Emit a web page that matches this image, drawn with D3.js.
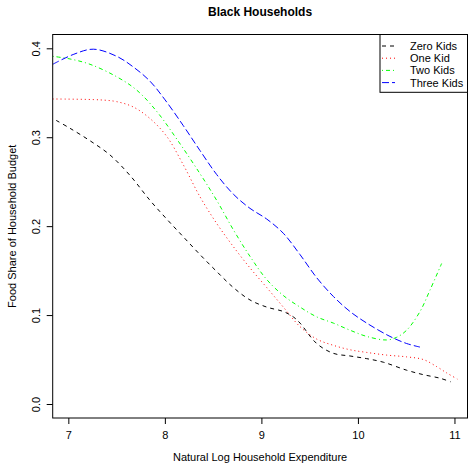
<!DOCTYPE html>
<html>
<head>
<meta charset="utf-8">
<script src="https://cdn.jsdelivr.net/npm/d3@7"></script>
<style>
  body { margin: 0; background: #fff; }
  svg text { font-family: "Liberation Sans", Arial, sans-serif; }
</style>
</head>
<body>
<div id="chart"></div>
<script>
// series names, colours and line types (as in the legend)
const seriesNames = ["Zero Kids", "One Kid", "Two Kids", "Three Kids"];
const seriesColors = ["#000000", "#ff0000", "#00ff00", "#0000ff"];
const seriesDash = ["4,4", "1,3", "1,3,4,3", "7,3"];

// values: [log expenditure, food share]
const zeroKids = [
    [6.873, 0.319], [7.018, 0.310], [7.225, 0.296], [7.432, 0.280], [7.639, 0.257],
    [7.846, 0.229], [8.019, 0.208], [8.191, 0.188], [8.364, 0.168], [8.537, 0.149],
    [8.709, 0.131], [8.882, 0.117], [9.055, 0.109], [9.227, 0.104], [9.330, 0.098],
    [9.400, 0.091], [9.573, 0.068], [9.745, 0.057], [9.918, 0.054], [10.091, 0.051],
    [10.263, 0.047], [10.505, 0.038], [10.677, 0.033], [10.850, 0.029], [10.960, 0.025]
];
const oneKid = [
    [6.838, 0.343], [7.328, 0.342], [7.501, 0.340], [7.673, 0.334], [7.846, 0.321],
    [8.019, 0.301], [8.191, 0.269], [8.364, 0.233], [8.537, 0.203], [8.709, 0.177],
    [8.882, 0.153], [9.055, 0.131], [9.227, 0.109], [9.400, 0.087], [9.573, 0.073],
    [9.745, 0.066], [9.918, 0.061], [10.091, 0.058], [10.298, 0.055], [10.505, 0.053],
    [10.677, 0.050], [10.816, 0.042], [10.919, 0.035], [11.030, 0.028]
];
const twoKids = [
    [6.838, 0.391], [7.018, 0.388], [7.225, 0.382], [7.501, 0.368], [7.708, 0.353],
    [7.916, 0.329], [8.123, 0.298], [8.364, 0.259], [8.537, 0.229],
    [8.709, 0.196], [8.882, 0.166], [9.055, 0.140], [9.227, 0.122], [9.400, 0.109],
    [9.573, 0.098], [9.745, 0.091], [9.918, 0.083], [10.091, 0.076], [10.298, 0.072],
    [10.401, 0.075], [10.505, 0.083], [10.643, 0.104], [10.746, 0.128], [10.867, 0.158]
];
const threeKids = [
    [6.838, 0.382], [7.050, 0.393], [7.259, 0.399], [7.501, 0.391], [7.673, 0.379],
    [7.846, 0.363], [8.002, 0.342], [8.191, 0.313], [8.364, 0.285], [8.537, 0.258],
    [8.709, 0.236], [8.882, 0.220], [9.055, 0.208], [9.227, 0.192], [9.400, 0.168],
    [9.573, 0.142], [9.745, 0.121], [9.918, 0.104], [10.091, 0.091], [10.332, 0.076],
    [10.505, 0.068], [10.643, 0.064]
];
const seriesValues = [zeroKids, oneKid, twoKids, threeKids];

const xTicks = [7, 8, 9, 10, 11];
const yTicks = [0.0, 0.1, 0.2, 0.3, 0.4];

// Set up dimensions
const W = 469, H = 464;
const box = {left: 52.7, right: 467.5, top: 34.5, bottom: 418};

const svg = d3.select("#chart").append("svg")
    .attr("width", W)
    .attr("height", H);

// Scales
const x = d3.scaleLinear()
    .domain([6.838, 11.135])
    .range([box.left, box.right]);
const y = d3.scaleLinear()
    .domain([-0.01574, 0.41552])
    .range([box.bottom, box.top]);

svg.append("defs").append("clipPath")
    .attr("id", "plotclip")
    .append("rect")
        .attr("x", box.left)
        .attr("y", box.top)
        .attr("width", box.right - box.left)
        .attr("height", box.bottom - box.top);

// Lines
const line = d3.line()
    .x(d => x(d[0]))
    .y(d => y(d[1]))
    .curve(d3.curveCatmullRom.alpha(0.5));

const lines = svg.append("g").attr("clip-path", "url(#plotclip)");
seriesValues.forEach(function(vals, i) {
    lines.append("path")
        .datum(vals)
        .attr("fill", "none")
        .attr("stroke", seriesColors[i])
        .attr("stroke-width", 1)
        .attr("stroke-dasharray", seriesDash[i])
        .attr("d", line);
});

// Axes
const xAxis = svg.append("g")
    .attr("transform", "translate(0," + box.bottom + ")")
    .call(d3.axisBottom(x).tickValues(xTicks).tickSize(6).tickPadding(7).tickFormat(d3.format("d")));
xAxis.select(".domain").remove();
xAxis.selectAll("text").style("font-size", "11px").attr("fill", "#000");

const yAxis = svg.append("g")
    .attr("transform", "translate(" + box.left + ",0)")
    .call(d3.axisLeft(y).tickValues(yTicks).tickSize(6).tickFormat(d3.format(".1f")));
yAxis.select(".domain").remove();
yAxis.selectAll("text")
    .style("font-size", "11px")
    .attr("fill", "#000")
    .attr("x", null)
    .attr("dy", null)
    .attr("text-anchor", "middle")
    .attr("transform", "translate(-13,0) rotate(-90)");

// Plot box
svg.append("rect")
    .attr("x", box.left)
    .attr("y", box.top)
    .attr("width", box.right - box.left)
    .attr("height", box.bottom - box.top)
    .attr("fill", "none")
    .attr("stroke", "#000")
    .attr("stroke-width", 1);

// Titles
svg.append("text")
    .attr("x", (box.left + box.right) / 2)
    .attr("y", 16)
    .attr("text-anchor", "middle")
    .style("font-size", "12px")
    .style("font-weight", "bold")
    .text("Black Households");

svg.append("text")
    .attr("x", (box.left + box.right) / 2)
    .attr("y", 461)
    .attr("text-anchor", "middle")
    .style("font-size", "11px")
    .text("Natural Log Household Expenditure");

svg.append("text")
    .attr("transform", "translate(16," + ((box.top + box.bottom) / 2) + ") rotate(-90)")
    .attr("text-anchor", "middle")
    .style("font-size", "11px")
    .text("Food Share of Household Budget");

// Legend
const legend = svg.append("g");
legend.append("rect")
    .attr("x", 380)
    .attr("y", box.top)
    .attr("width", box.right - 380)
    .attr("height", 92.3 - box.top)
    .attr("fill", "#fff")
    .attr("stroke", "#000")
    .attr("stroke-width", 1);

seriesNames.forEach(function(name, i) {
    const ly = 46 + i * 12.2;
    legend.append("line")
        .attr("x1", 382).attr("x2", 395)
        .attr("y1", ly).attr("y2", ly)
        .attr("stroke", seriesColors[i])
        .attr("stroke-dasharray", seriesDash[i]);
    legend.append("text")
        .attr("x", 410)
        .attr("y", ly + 4)
        .style("font-size", "11px")
        .text(name);
});
</script>
</body>
</html>
